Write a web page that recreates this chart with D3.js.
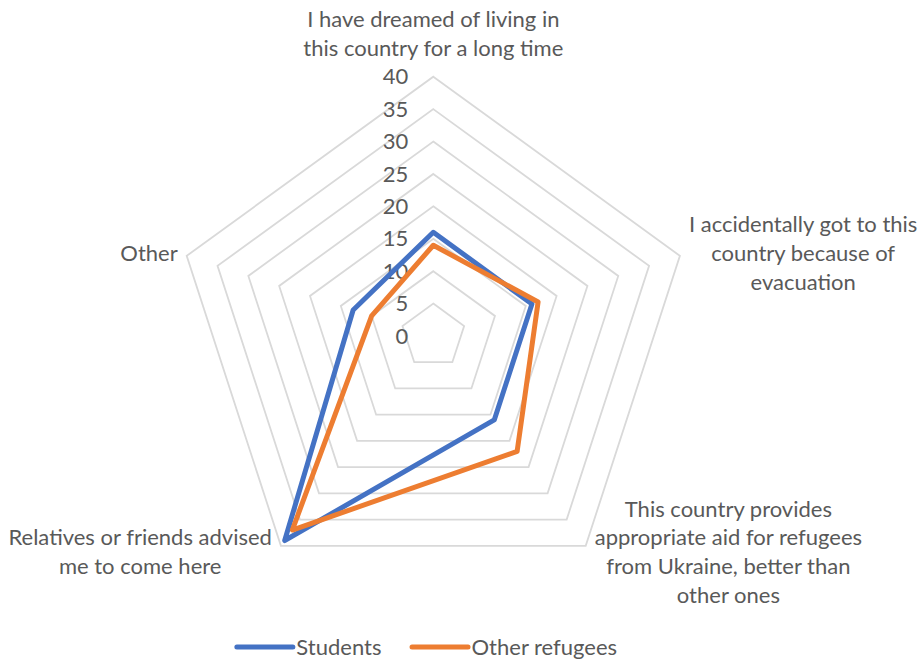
<!DOCTYPE html>
<html>
<head>
<meta charset="utf-8">
<script src="https://cdn.jsdelivr.net/npm/d3@7"></script>
<style>
  html, body { margin: 0; padding: 0; background: #fff; }
  svg { display: block; }
  text { font-family: Lato, "Noto Sans", sans-serif; fill: #595959; }
</style>
</head>
<body>
<svg id="chart" width="920" height="659"></svg>
<script>
/* ── DATA ───────────────────────────────────────────────────────────────────── */
const categories = [
  ['I have dreamed of living in', 'this country for a long time'],
  ['I accidentally got to this', 'country because of', 'evacuation'],
  ['This country provides', 'appropriate aid for refugees', 'from Ukraine, better than', 'other ones'],
  ['Relatives or friends advised', 'me to come here'],
  ['Other']
];
const students       = [16, 16, 16, 39, 13];
const otherRefugees  = [14, 17, 22, 37, 10];
const radialTicks    = [0, 5, 10, 15, 20, 25, 30, 35, 40];

const series = [
  { name: 'Students',       values: students,      color: '#4472C4' },
  { name: 'Other refugees', values: otherRefugees, color: '#ED7D31' }
];

/* ── LAYOUT ─────────────────────────────────────────────────────────────────── */
const cx = 433.3, cy = 336;
const FONT = 22;
const LINE_H = 28.8;

const svg = d3.select('#chart');
const g = svg.append('g').attr('transform', `translate(${cx},${cy})`);

const r = d3.scaleLinear().domain([0, 40]).range([0, 259.3]);
const angle = d3.scaleLinear().domain([0, categories.length]).range([0, 2 * Math.PI]);

const point = (i, v) => {
  const a = angle(i);
  return [Math.sin(a) * r(v), -Math.cos(a) * r(v)];
};

/* ── GRID ───────────────────────────────────────────────────────────────────── */
const ring = d3.lineRadial()
  .angle((d, i) => angle(i))
  .radius(d => r(d))
  .curve(d3.curveLinearClosed);

g.append('g').attr('class', 'grid')
  .selectAll('path')
  .data(radialTicks.filter(t => t > 0))
  .join('path')
  .attr('d', t => ring(categories.map(() => t)))
  .attr('fill', 'none')
  .attr('stroke', '#D9D9D9')
  .attr('stroke-width', 1.8);

// tick labels, right-aligned left of the top spoke
g.append('g').attr('class', 'ticks')
  .selectAll('text')
  .data(radialTicks)
  .join('text')
  .attr('x', -25)
  .attr('y', t => -r(t))
  .attr('dy', '0.35em')
  .attr('text-anchor', 'end')
  .style('font-size', FONT + 'px')
  .text(t => t);

/* ── SERIES ─────────────────────────────────────────────────────────────────── */
g.append('g').attr('class', 'series')
  .selectAll('path')
  .data(series)
  .join('path')
  .attr('d', s => ring(s.values))
  .attr('fill', 'none')
  .attr('stroke', s => s.color)
  .attr('stroke-width', 5)
  .attr('stroke-linejoin', 'round');

/* ── CATEGORY LABELS ────────────────────────────────────────────────────────── */
const labels = g.append('g').attr('class', 'cat-labels');
categories.forEach((lines, i) => {
  const [vx, vy] = point(i, 40);
  const a = angle(i);
  const ux = Math.sin(a), uy = -Math.cos(a);
  const t = labels.append('text')
    .style('font-size', FONT + 'px')
    .attr('text-anchor', 'middle');
  lines.forEach((ln, k) => t.append('tspan').attr('x', 0).attr('y', k * LINE_H).text(ln));

  const bb = t.node().getBBox();
  let x, y;
  if (Math.abs(ux) < 0.01) {
    // top label sits above the vertex
    x = vx;
    y = vy - 21 - (lines.length - 1) * LINE_H;
  } else {
    const side = ux > 0 ? 1 : -1;
    x = vx + side * (9 + bb.width / 2);
    const blockMid = (lines.length - 1) * LINE_H / 2 - 7.5;
    y = vy + 8 * uy - blockMid;
  }
  t.attr('transform', `translate(${x},${y})`);
});

/* ── LEGEND ─────────────────────────────────────────────────────────────────── */
const legend = svg.append('g').attr('class', 'legend');
let lx = 0;
series.forEach(s => {
  const item = legend.append('g').attr('transform', `translate(${lx},0)`);
  item.append('line')
    .attr('x1', 0).attr('x2', 56)
    .attr('y1', 0).attr('y2', 0)
    .attr('stroke', s.color)
    .attr('stroke-width', 5)
    .attr('stroke-linecap', 'round');
  const txt = item.append('text')
    .attr('x', 59.5)
    .attr('y', 0)
    .attr('dy', '0.35em')
    .style('font-size', FONT + 'px')
    .text(s.name);
  lx += 59.5 + txt.node().getComputedTextLength() + 30.6;
});
const legendW = lx - 30.6;
legend.attr('transform', `translate(${427 - legendW / 2},647)`);
</script>
</body>
</html>
